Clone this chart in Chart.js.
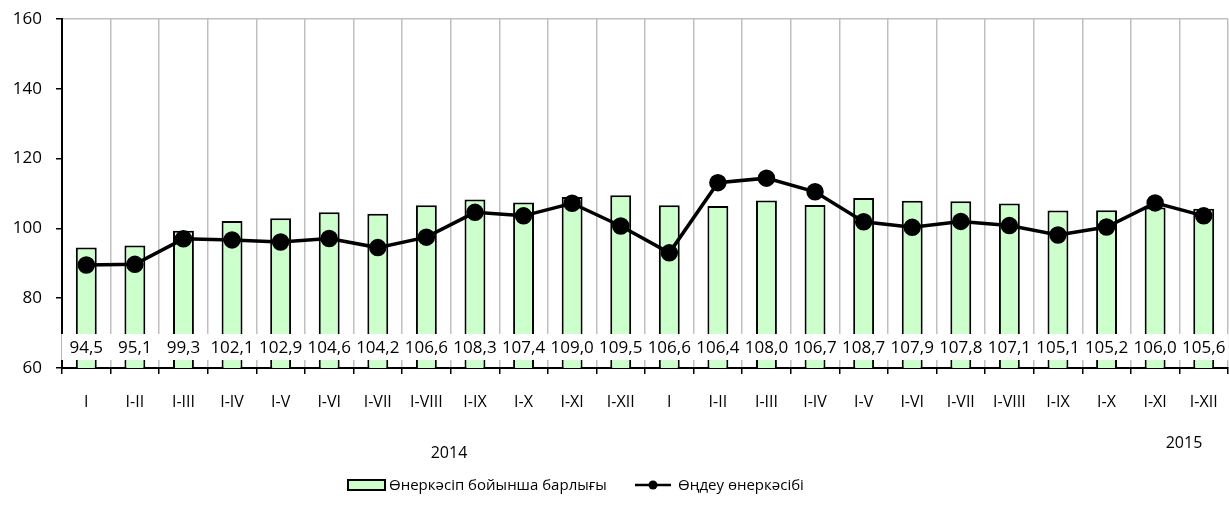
<!DOCTYPE html>
<html>
<head>
<meta charset="utf-8">
<script src="https://cdn.jsdelivr.net/npm/chart.js@4.4.1/dist/chart.umd.min.js"></script>
<style>
  html, body { margin: 0; padding: 0; background: #fff; }
  #wrap { width: 1229px; height: 521px; position: relative; }
</style>
</head>
<body>
<div id="wrap"><canvas id="chart"></canvas></div>
<script>
// categories and values
const months = ['I', 'I-II', 'I-III', 'I-IV', 'I-V', 'I-VI', 'I-VII', 'I-VIII', 'I-IX', 'I-X', 'I-XI', 'I-XII',
                'I', 'I-II', 'I-III', 'I-IV', 'I-V', 'I-VI', 'I-VII', 'I-VIII', 'I-IX', 'I-X', 'I-XI', 'I-XII'];
const totalIndustry = [94.5, 95.1, 99.3, 102.1, 102.9, 104.6, 104.2, 106.6, 108.3, 107.4, 109.0, 109.5,
                       106.6, 106.4, 108.0, 106.7, 108.7, 107.9, 107.8, 107.1, 105.1, 105.2, 106.0, 105.6];
const manufacturing = [89.5, 89.7, 97.0, 96.7, 96.1, 97.1, 94.5, 97.5, 104.6, 103.6, 107.2, 100.7,
                       93.0, 113.1, 114.4, 110.5, 101.9, 100.3, 102.0, 100.8, 98.1, 100.4, 107.3, 103.6];
const yTicks = [60, 80, 100, 120, 140, 160];
const years = ['2014', '2015'];
const seriesNames = ['Өнеркәсіп бойынша барлығы', 'Өңдеу өнеркәсібі'];

const FONT = '"Open Sans", "DejaVu Sans", sans-serif';

// value labels in white boxes near the bottom of the plot
const valueLabels = {
    id: 'valueLabels',
    afterDatasetsDraw(chart) {
        const ctx = chart.ctx;
        const meta = chart.getDatasetMeta(1);
        ctx.save();
        ctx.font = '17px ' + FONT;
        ctx.textAlign = 'center';
        ctx.textBaseline = 'middle';
        meta.data.forEach((bar, i) => {
            ctx.fillStyle = '#fff';
            ctx.fillRect(bar.x - 25, 334, 50, 26);
            ctx.fillStyle = '#000';
            ctx.fillText(totalIndustry[i].toFixed(1).replace('.', ','), bar.x, 348);
        });
        ctx.restore();
    }
};

// year captions and legend
const extras = {
    id: 'extras',
    afterDraw(chart) {
        const ctx = chart.ctx;
        ctx.save();
        ctx.fillStyle = '#000';
        ctx.font = '16px ' + FONT;
        ctx.textAlign = 'center';
        ctx.textBaseline = 'middle';
        ctx.fillText(years[0], 449, 453);
        ctx.fillText(years[1], 1184, 443);

        // bar legend item
        ctx.fillStyle = '#ccffcc';
        ctx.fillRect(348, 480, 37, 10);
        ctx.strokeStyle = '#000';
        ctx.lineWidth = 2;
        ctx.strokeRect(348, 480, 37, 10);
        // line legend item
        ctx.lineWidth = 2.5;
        ctx.beginPath();
        ctx.moveTo(635, 485);
        ctx.lineTo(671, 485);
        ctx.stroke();
        ctx.fillStyle = '#000';
        ctx.beginPath();
        ctx.arc(653, 485, 4.5, 0, Math.PI * 2);
        ctx.fill();

        ctx.font = '15px ' + FONT;
        ctx.textAlign = 'left';
        ctx.fillText(seriesNames[0], 389, 486);
        ctx.fillText(seriesNames[1], 678, 486);
        ctx.restore();
    }
};

new Chart(document.getElementById('chart'), {
    type: 'bar',
    data: {
        labels: months,
        datasets: [{
            type: 'line',
            label: seriesNames[1],
            data: manufacturing,
            borderColor: '#000',
            borderWidth: 3.5,
            pointRadius: 7,
            pointBackgroundColor: '#000',
            pointBorderColor: '#000',
            tension: 0,
            order: 0
        }, {
            label: seriesNames[0],
            data: totalIndustry,
            backgroundColor: '#ccffcc',
            borderColor: '#000',
            borderWidth: 2,
            barPercentage: 0.43,
            categoryPercentage: 1,
            order: 1
        }]
    },
    options: {
        responsive: true,
        maintainAspectRatio: false,
        animation: false,
        layout: {
            autoPadding: false,
            padding: { top: 19, right: 1, left: 0, bottom: 0 }
        },
        plugins: {
            legend: { display: false },
            tooltip: { enabled: false }
        },
        scales: {
            x: {
                offset: true,
                grid: {
                    offset: true,
                    color: '#c0c0c0',
                    lineWidth: 1.5,
                    tickColor: '#000',
                    tickLength: 6,
                    tickWidth: 1.5
                },
                border: { color: '#000', width: 2 },
                ticks: {
                    color: '#000',
                    padding: 19,
                    maxRotation: 0,
                    autoSkip: false,
                    font: { size: 16, family: FONT }
                },
                afterFit(scale) {
                    scale.height = 153;
                    scale.paddingLeft = 0;
                    scale.paddingRight = 0;
                }
            },
            y: {
                min: yTicks[0],
                max: yTicks[yTicks.length - 1],
                afterBuildTicks(scale) {
                    scale.ticks = yTicks.map(v => ({ value: v }));
                },
                grid: {
                    color: ctx => ctx.tick && ctx.tick.value === 160 ? '#c0c0c0' : 'rgba(0,0,0,0)',
                    lineWidth: 1.5,
                    tickColor: '#000',
                    tickLength: 6,
                    tickWidth: 1.5
                },
                border: { color: '#000', width: 2 },
                ticks: {
                    color: '#000',
                    padding: 14,
                    font: { size: 17, family: FONT }
                },
                afterFit(scale) {
                    scale.width = 62;
                    scale.paddingTop = 0;
                    scale.paddingBottom = 0;
                }
            }
        }
    },
    plugins: [valueLabels, extras]
});
</script>
</body>
</html>
